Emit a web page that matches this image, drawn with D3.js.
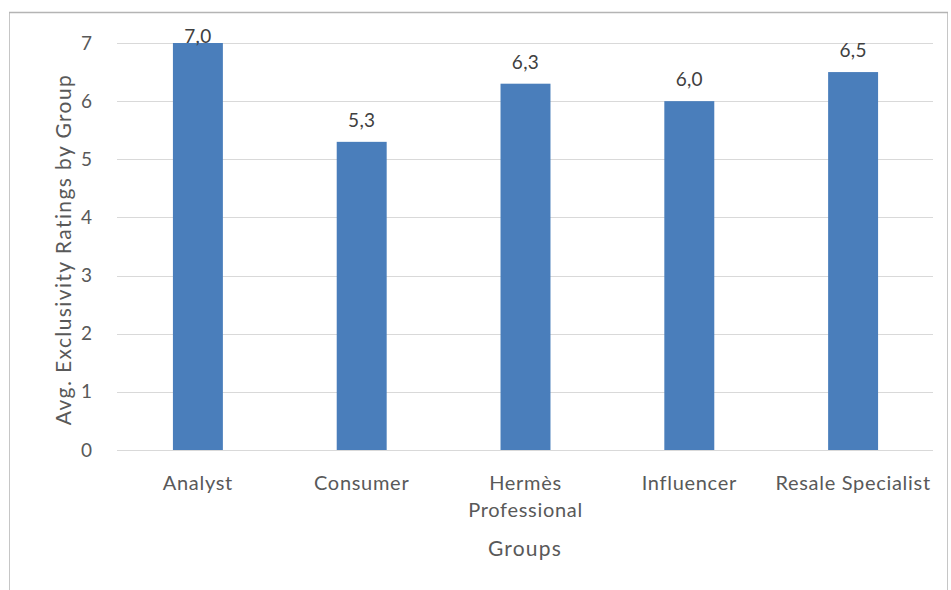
<!DOCTYPE html>
<html>
<head>
<meta charset="utf-8">
<script src="https://cdn.jsdelivr.net/npm/d3@7"></script>
<style>
  html, body { margin: 0; padding: 0; background: #ffffff; }
  svg { display: block; font-family: Lato, "Open Sans", sans-serif; }
</style>
</head>
<body>
<svg id="chart" width="951" height="590"></svg>
<script>
// Average exclusivity rating per respondent group
const categories = ["Analyst", "Consumer", "Hermès Professional", "Influencer", "Resale Specialist"];
const ratings = [7.0, 5.3, 6.3, 6.0, 6.5];
const yTicks = [0, 1, 2, 3, 4, 5, 6, 7];
const yTitle = "Avg. Exclusivity Ratings by Group";
const xTitle = "Groups";

const svg = d3.select("#chart");
const plot = { left: 116, right: 935, top: 43, bottom: 450 };

const textGray = "#595959";
const gridGray = "#d9d9d9";
const barBlue = "#4a7ebb";

// Outer chart frame
svg.append("rect")
  .attr("x", 9.5).attr("y", 12.5)
  .attr("width", 938).attr("height", 620)
  .attr("fill", "#ffffff")
  .attr("stroke", "#c6c6c6").attr("stroke-width", 1);
svg.append("line")
  .attr("x1", 9).attr("x2", 948).attr("y1", 12.5).attr("y2", 12.5)
  .attr("stroke", "#b4b4b4").attr("stroke-width", 1.5);

const x = d3.scaleBand()
  .domain(categories)
  .range([plot.left, plot.right])
  .paddingInner(0.695)
  .paddingOuter(0.3475);

const y = d3.scaleLinear()
  .domain([0, 7])
  .range([plot.bottom, plot.top]);

// Horizontal gridlines
svg.append("g")
  .selectAll("line")
  .data(yTicks)
  .join("line")
  .attr("x1", plot.left + 1).attr("x2", plot.right - 2)
  .attr("y1", d => Math.round(y(d)) + 0.5)
  .attr("y2", d => Math.round(y(d)) + 0.5)
  .attr("stroke", gridGray).attr("stroke-width", 1.2);

// Y axis labels
const yAxis = svg.append("g")
  .attr("transform", `translate(${plot.left - 15},0)`)
  .call(d3.axisLeft(y).tickValues(yTicks).tickSize(0).tickPadding(9).tickFormat(d3.format("d")));
yAxis.select(".domain").remove();
yAxis.selectAll("text")
  .attr("fill", textGray)
  .style("font-size", "19px")
  .style("font-family", "Lato, 'Open Sans', sans-serif");

// Bars
svg.append("g")
  .selectAll("rect")
  .data(categories)
  .join("rect")
  .attr("x", d => x(d))
  .attr("y", (d, i) => y(ratings[i]))
  .attr("width", x.bandwidth())
  .attr("height", (d, i) => y(0) - y(ratings[i]))
  .attr("fill", barBlue);

// Value labels above bars (comma decimal)
const fmt = v => v.toFixed(1).replace(".", ",");
svg.append("g")
  .selectAll("text")
  .data(categories)
  .join("text")
  .attr("x", d => x(d) + x.bandwidth() / 2)
  .attr("y", (d, i) => Math.max(y(ratings[i]) - 15, plot.top))
  .attr("text-anchor", "middle")
  .attr("fill", "#404040")
  .style("font-size", "19px")
  .style("letter-spacing", "0.3px")
  .text((d, i) => fmt(ratings[i]));

// Category labels, wrapped when wider than a band step
const catG = svg.append("g");
categories.forEach(c => {
  const t = catG.append("text")
    .attr("x", x(c) + x.bandwidth() / 2)
    .attr("y", 490)
    .attr("text-anchor", "middle")
    .attr("fill", textGray)
    .style("font-size", "20px")
    .style("letter-spacing", "0.7px")
    .text(c);
  if (t.node().getComputedTextLength() > x.step()) {
    const words = c.split(" ");
    t.text(null);
    words.forEach((w, k) => {
      t.append("tspan")
        .attr("x", x(c) + x.bandwidth() / 2)
        .attr("dy", k === 0 ? 0 : 27)
        .text(w);
    });
  }
});

// Axis titles
svg.append("text")
  .attr("x", (plot.left + plot.right) / 2 - 0.5)
  .attr("y", 556)
  .attr("text-anchor", "middle")
  .attr("fill", textGray)
  .style("font-size", "21px")
  .style("letter-spacing", "1.2px")
  .text(xTitle);

svg.append("text")
  .attr("transform", `translate(71,${(plot.top + plot.bottom) / 2 + 3}) rotate(-90)`)
  .attr("text-anchor", "middle")
  .attr("fill", textGray)
  .style("font-size", "21px")
  .style("letter-spacing", "1.4px")
  .text(yTitle);
</script>
</body>
</html>
